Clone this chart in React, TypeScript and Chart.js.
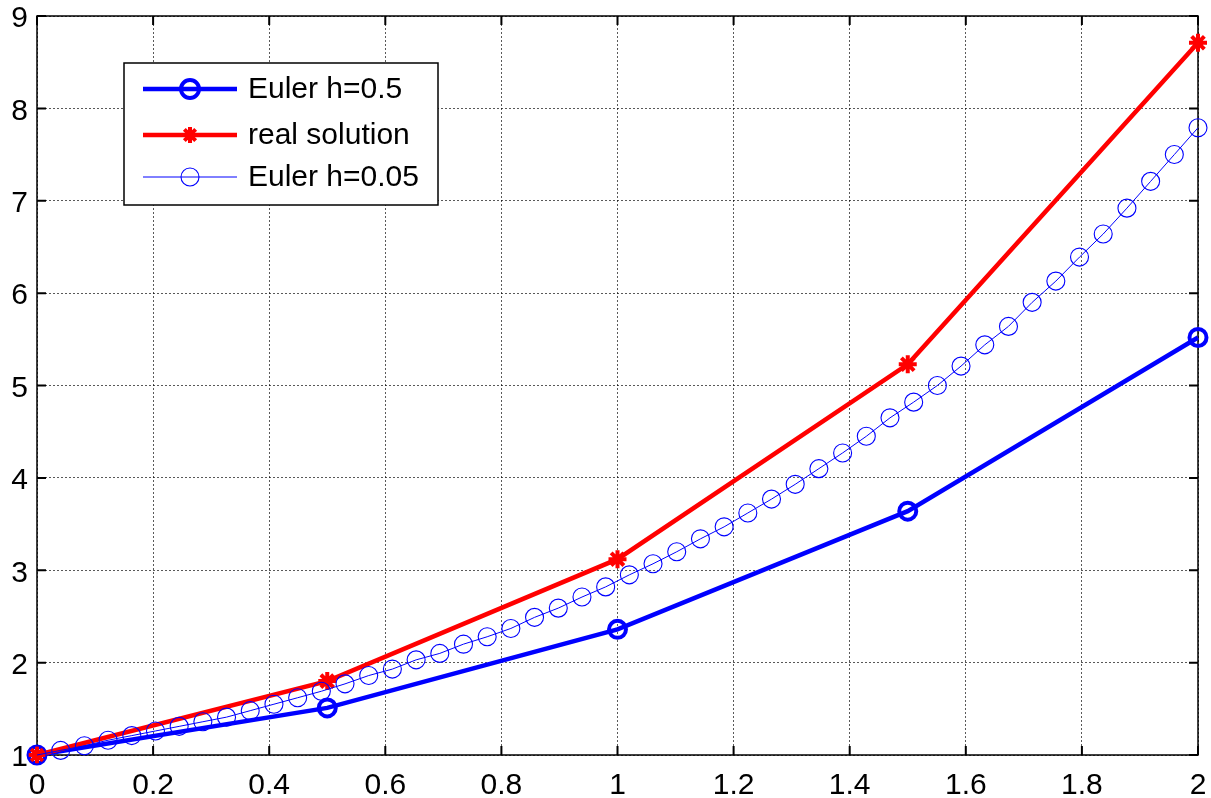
import React, { useEffect, useRef } from "react";
import { Chart, registerables } from "chart.js";

Chart.register(...registerables);

// ---- data ----
const seriesLabels = ["Euler h=0.5", "real solution", "Euler h=0.05"];

const eulerCoarseX = [0, 0.5, 1, 1.5, 2];
const eulerCoarseY = [1, 1.51, 2.36, 3.64, 5.52];

const realX = [0, 0.5, 1, 1.5, 2];
const realY = [1, 1.8, 3.12, 5.23, 8.71];

const eulerFineX = [
  0, 0.0408, 0.0816, 0.1224, 0.1633, 0.2041, 0.2449, 0.2857, 0.3265, 0.3673,
  0.4082, 0.449, 0.4898, 0.5306, 0.5714, 0.6122, 0.6531, 0.6939, 0.7347, 0.7755,
  0.8163, 0.8571, 0.898, 0.9388, 0.9796, 1.0204, 1.0612, 1.102, 1.1429, 1.1837,
  1.2245, 1.2653, 1.3061, 1.3469, 1.3878, 1.4286, 1.4694, 1.5102, 1.551, 1.5918,
  1.6327, 1.6735, 1.7143, 1.7551, 1.7959, 1.8367, 1.8776, 1.9184, 1.9592, 2.0,
];
const eulerFineY = [
  1.0, 1.05, 1.1, 1.16, 1.21, 1.26, 1.31, 1.36, 1.41, 1.48,
  1.55, 1.62, 1.69, 1.77, 1.86, 1.93, 2.03, 2.1, 2.2, 2.28,
  2.37, 2.49, 2.59, 2.71, 2.82, 2.95, 3.07, 3.2, 3.34, 3.47,
  3.62, 3.77, 3.93, 4.1, 4.27, 4.45, 4.65, 4.82, 5.0, 5.21,
  5.44, 5.64, 5.9, 6.13, 6.39, 6.64, 6.92, 7.21, 7.5, 7.79,
];

const xTicks = [0, 0.2, 0.4, 0.6, 0.8, 1, 1.2, 1.4, 1.6, 1.8, 2];
const xTickLabels = ["0", "0.2", "0.4", "0.6", "0.8", "1", "1.2", "1.4", "1.6", "1.8", "2"];
const yTicks = [1, 2, 3, 4, 5, 6, 7, 8, 9];
const yTickLabels = ["1", "2", "3", "4", "5", "6", "7", "8", "9"];

const FONT = "'Liberation Sans', Arial, Helvetica, sans-serif";
const BLUE = "rgb(0,0,255)";
const RED = "rgb(255,0,0)";

type Style = { color: string; lineWidth: number; marker: "circle" | "star"; radius: number; markerWidth: number };
const styles: Style[] = [
  { color: BLUE, lineWidth: 4.5, marker: "circle", radius: 8.5, markerWidth: 4 },
  { color: RED, lineWidth: 4.5, marker: "star", radius: 9, markerWidth: 4 },
  { color: BLUE, lineWidth: 1, marker: "circle", radius: 9, markerWidth: 1.1 },
];

function drawMarker(ctx: CanvasRenderingContext2D, s: Style, x: number, y: number, r: number) {
  ctx.save();
  ctx.strokeStyle = s.color;
  ctx.lineWidth = s.markerWidth;
  ctx.beginPath();
  if (s.marker === "circle") {
    ctx.arc(x, y, r, 0, Math.PI * 2);
  } else {
    for (let i = 0; i < 4; i++) {
      const a = (i * Math.PI) / 4;
      ctx.moveTo(x - Math.cos(a) * r, y - Math.sin(a) * r);
      ctx.lineTo(x + Math.cos(a) * r, y + Math.sin(a) * r);
    }
  }
  ctx.stroke();
  ctx.restore();
}

const framePlugin = {
  id: "matlabFrame",
  beforeDatasetsDraw(chart: any) {
    const { ctx, chartArea: a, scales } = chart;
    ctx.save();
    ctx.strokeStyle = "#000";
    ctx.lineWidth = 1.5;
    ctx.strokeRect(a.left, a.top, a.right - a.left, a.bottom - a.top);
    ctx.lineWidth = 2;
    const L = 9;
    ctx.beginPath();
    xTicks.forEach((v) => {
      const px = scales.x.getPixelForValue(v);
      ctx.moveTo(px, a.bottom);
      ctx.lineTo(px, a.bottom - L);
      ctx.moveTo(px, a.top);
      ctx.lineTo(px, a.top + L);
    });
    yTicks.forEach((v) => {
      const py = scales.y.getPixelForValue(v);
      ctx.moveTo(a.left, py);
      ctx.lineTo(a.left + L, py);
      ctx.moveTo(a.right, py);
      ctx.lineTo(a.right - L, py);
    });
    ctx.stroke();
    ctx.restore();
  },
};

const legendPlugin = {
  id: "matlabLegend",
  afterDraw(chart: any) {
    const ctx: CanvasRenderingContext2D = chart.ctx;
    const box = { x: 124, y: 63, w: 314, h: 142 };
    ctx.save();
    ctx.fillStyle = "#fff";
    ctx.fillRect(box.x, box.y, box.w, box.h);
    ctx.strokeStyle = "#000";
    ctx.lineWidth = 1.5;
    ctx.strokeRect(box.x, box.y, box.w, box.h);
    const rows = [89, 135, 177];
    chart.data.datasets.forEach((ds: any, i: number) => {
      const s = styles[i];
      const y = box.y + (rows[i] - 63);
      ctx.strokeStyle = s.color;
      ctx.lineWidth = s.lineWidth;
      ctx.beginPath();
      ctx.moveTo(box.x + 19, y);
      ctx.lineTo(box.x + 113, y);
      ctx.stroke();
      drawMarker(ctx, s, box.x + 66, y, s.marker === "star" ? 8 : 9);
      ctx.fillStyle = "#000";
      ctx.font = `30px ${FONT}`;
      ctx.textBaseline = "middle";
      ctx.textAlign = "left";
      ctx.fillText(ds.label, box.x + 124, y + 1);
    });
    ctx.restore();
  },
};

export default function App() {
  const ref = useRef<HTMLCanvasElement | null>(null);
  useEffect(() => {
    if (!ref.current) return;
    const mk = (xs: number[], ys: number[]) => xs.map((x, i) => ({ x, y: ys[i] }));
    const datasets = [
      { x: eulerCoarseX, y: eulerCoarseY },
      { x: realX, y: realY },
      { x: eulerFineX, y: eulerFineY },
    ].map((d, i) => {
      const s = styles[i];
      return {
        label: seriesLabels[i],
        data: mk(d.x, d.y),
        borderColor: s.color,
        backgroundColor: "rgba(0,0,0,0)",
        borderWidth: s.lineWidth,
        pointStyle: s.marker === "star" ? "star" : "circle",
        pointRadius: s.radius,
        pointBorderWidth: s.markerWidth,
        pointBorderColor: s.color,
        pointBackgroundColor: "rgba(0,0,0,0)",
        tension: 0,
        fill: false,
        clip: false as any,
        order: 2 - i,
      };
    });
    const chart = new Chart(ref.current, {
      type: "line",
      data: { datasets },
      options: {
        animation: false,
        responsive: false,
        devicePixelRatio: 1,
        layout: { padding: { top: 16, right: 12, left: 0, bottom: 0 } },
        plugins: { legend: { display: false }, tooltip: { enabled: false } },
        scales: {
          x: {
            type: "linear",
            min: 0,
            max: 2,
            afterBuildTicks: (scale: any) => {
              scale.ticks = xTicks.map((v) => ({ value: v }));
            },
            afterFit: (scale: any) => {
              scale.height = 43;
              scale.paddingLeft = 0;
              scale.paddingRight = 0;
            },
            ticks: {
              autoSkip: false,
              maxRotation: 0,
              padding: 13,
              color: "#000",
              font: { family: FONT, size: 30 },
              callback: (v: any) => {
                const i = xTicks.findIndex((t) => Math.abs(t - Number(v)) < 1e-9);
                return i >= 0 ? xTickLabels[i] : "";
              },
            },
            grid: {
              drawTicks: false,
              color: "rgba(0,0,0,0.65)",
              lineWidth: 1,
            },
            border: { display: false, dash: [2, 2] },
          },
          y: {
            type: "linear",
            min: 1,
            max: 9,
            afterBuildTicks: (scale: any) => {
              scale.ticks = yTicks.map((v) => ({ value: v }));
            },
            afterFit: (scale: any) => {
              scale.width = 37;
              scale.paddingTop = 0;
              scale.paddingBottom = 0;
            },
            ticks: {
              autoSkip: false,
              padding: 9,
              labelOffset: 3,
              color: "#000",
              font: { family: FONT, size: 30 },
              callback: (v: any) => {
                const i = yTicks.findIndex((t) => Math.abs(t - Number(v)) < 1e-9);
                return i >= 0 ? yTickLabels[i] : "";
              },
            },
            grid: {
              drawTicks: false,
              color: "rgba(0,0,0,0.65)",
              lineWidth: 1,
            },
            border: { display: false, dash: [2, 2] },
          },
        },
      } as any,
      plugins: [framePlugin, legendPlugin],
    });
    return () => chart.destroy();
  }, []);
  return (
    <div style={{ position: "absolute", left: 0, top: 0, width: 1211, height: 798, background: "#fff" }}>
      <canvas ref={ref} width={1211} height={798} style={{ display: "block" }} />
    </div>
  );
}
